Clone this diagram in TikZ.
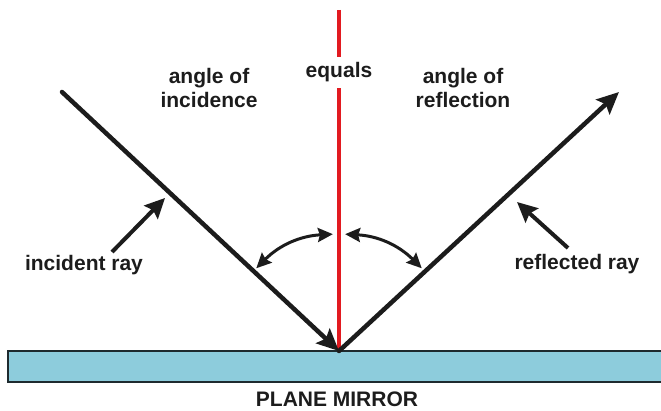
\documentclass[tikz,border=0pt]{standalone}
\usepackage{fontspec}
\setmainfont{Liberation Sans}
\usetikzlibrary{arrows.meta,calc}

\definecolor{mirrorblue}{RGB}{141,204,220}
\definecolor{mirroredge}{RGB}{30,42,46}
\definecolor{normalred}{RGB}{226,26,32}
\definecolor{inkgray}{RGB}{28,28,28}

\begin{document}
\begin{tikzpicture}[x=1pt, y=1pt,
	ray/.style={line width=4.5pt, draw=inkgray, line cap=round, -{Stealth[length=22pt, width=20pt, inset=4pt]}},
	pointer/.style={line width=4pt, draw=inkgray, -{Stealth[length=20pt, width=19pt, inset=3pt]}},
	anglearc/.style={line width=3pt, draw=inkgray, {Stealth[length=15pt, width=14pt, inset=2pt]}-{Stealth[length=15pt, width=14pt, inset=2pt]}},
	normalline/.style={line width=4pt, draw=normalred},
	lbl/.style={font=\fontsize{21}{24}\selectfont\bfseries, text=inkgray, align=center}]
	\useasboundingbox (0, 0) rectangle (661, 410);
	% Mirror, normal, rays and labels:
	\draw[fill=mirrorblue, draw=mirroredge, line width=2pt] (8, 28) rectangle (672, 59);
	\node[lbl] (mirrorlabel) at (337, 11) {PLANE MIRROR};
	\coordinate (O) at (339, 59);
	\coordinate (N) at (339, 400);
	\coordinate (A) at (62, 318);
	\coordinate (B) at (619, 318);
	\node[lbl, minimum height=31pt, inner ysep=0pt] (eq) at (339, 337.5) {equals};
	\draw[normalline] (N) -- (eq);
	\draw[normalline] (eq) -- (O);
	\node[lbl] (incidence) at (209, 322) {angle of\\incidence};
	\node[lbl] (reflection) at (463, 322) {angle of\\reflection};
	\draw[ray] (A) -- (O);
	\draw[ray] (O) -- (B);
	\coordinate (ai1) at ($(O)+(135:117)$);
	\coordinate (ai2) at ($(O)+(93:117)$);
	\coordinate (ar1) at ($(O)+(87:117)$);
	\coordinate (ar2) at ($(O)+(45:117)$);
	\draw[anglearc] (ai1) to[bend left=21] (ai2);
	\draw[anglearc] (ar1) to[bend left=21] (ar2);
	\node[lbl] (incident) at (84, 145) {incident ray};
	\node[lbl] (reflected) at (577, 146) {reflected ray};
	\coordinate (irtail) at (112, 158);
	\coordinate (irtip) at (165, 212);
	\coordinate (rrtail) at (568, 162);
	\coordinate (rrtip) at (517, 208);
	\draw[pointer] (irtail) -- (irtip);
	\draw[pointer] (rrtail) -- (rrtip);
\end{tikzpicture}
\end{document}
